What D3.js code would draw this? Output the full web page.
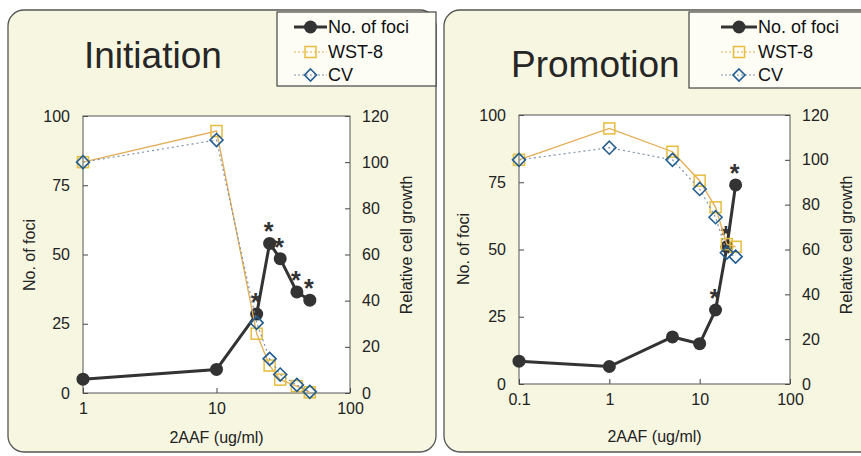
<!DOCTYPE html>
<html>
<head>
<meta charset="utf-8">
<script src="https://cdn.jsdelivr.net/npm/d3@7"></script>
<style>
  body { margin: 0; background: #ffffff; }
  svg { display: block; font-family: "Liberation Sans", Arial, sans-serif; }
  .tick text { font-size: 16px; fill: #222; }
  .tick line { stroke: #444; }
</style>
</head>
<body>
<svg id="chart" width="861" height="456"></svg>
<script>
// tick labels
const fociTicks = [0, 25, 50, 75, 100];
const growthTicks = [0, 20, 40, 60, 80, 100, 120];
const initXTicks = [1, 10, 100];
const promXTicks = [0.1, 1, 10, 100];

// Initiation
const initDose = [1, 10, 20, 25, 30, 40, 50];
const initFoci = [5, 8.5, 28.5, 54, 48.5, 36.5, 33.5];
const initWst = [100, 113.5, 25.7, 11.9, 5.8, 3, 0.3];
const initCv = [100, 109.6, 30.4, 14.8, 8, 3.5, 0.5];
const initSig = [false, false, true, true, true, true, true];

// Promotion
const promDose = [0.1, 1, 5, 10, 15, 20, 25];
const promFoci = [8.5, 6.5, 17.5, 15, 27.5, 51, 74];
const promWst = [100, 114, 103.6, 90.7, 78.8, 62.4, 61.2];
const promCv = [100, 105.4, 100, 87, 74.4, 58.6, 56.8];
const promSig = [false, false, false, false, true, true, true];

const seriesNames = ['No. of foci', 'WST-8', 'CV'];

const colFoci = '#333333';
const colWst = '#e6bd3c';
const colWstLine = '#e3ad55';
const colCv = '#235d8f';
const colCvLine = '#7f93ab';

const svg = d3.select('#chart');

function drawPanel (cfg) {
    const g = svg.append('g');

    /*panel background*/
    g.append('rect')
        .attr('x', cfg.box[0]).attr('y', cfg.box[1])
        .attr('width', cfg.box[2]).attr('height', cfg.box[3])
        .attr('rx', 16)
        .attr('fill', '#f6f6e1')
        .attr('stroke', '#555')
        .attr('stroke-width', 1.3);

    const p = cfg.plot;
    const width = p.right - p.left;
    const height = p.bottom - p.top;

    const chart = g.append('g')
        .attr('transform', `translate(${p.left}, ${p.top})`);

    chart.append('rect')
        .attr('width', width).attr('height', height)
        .attr('fill', '#ffffff');

    const x = d3.scaleLog()
        .domain(cfg.xDomain)
        .range([0, width]);

    const yL = d3.scaleLinear()
        .domain([0, 100])
        .range([height, 0]);

    const yR = d3.scaleLinear()
        .domain([0, 120])
        .range([height, 0]);

    /*axes*/
    chart.append('g')
        .attr('transform', `translate(0, ${height})`)
        .call(d3.axisBottom(x).tickValues(cfg.xTicks).tickFormat(d3.format('~g'))
            .tickSize(-5).tickSizeOuter(0).tickPadding(10))
        .call(a => a.select('.domain').remove());

    chart.append('g')
        .call(d3.axisLeft(yL).tickValues(fociTicks).tickSize(-5).tickSizeOuter(0).tickPadding(13))
        .call(a => a.select('.domain').remove());

    chart.append('g')
        .attr('transform', `translate(${width}, 0)`)
        .call(d3.axisRight(yR).tickValues(growthTicks).tickSize(-5).tickSizeOuter(0).tickPadding(12))
        .call(a => a.select('.domain').remove());

    chart.append('rect')
        .attr('width', width).attr('height', height)
        .attr('fill', 'none')
        .attr('stroke', '#555')
        .attr('stroke-width', 1);

    /*axis titles*/
    g.append('text')
        .attr('x', (p.left + p.right) / 2)
        .attr('y', cfg.xTitleY)
        .attr('text-anchor', 'middle')
        .attr('font-size', 16)
        .attr('fill', '#222')
        .text('2AAF (ug/ml)');

    g.append('text')
        .attr('transform', `translate(${cfg.yTitleL[0]}, ${cfg.yTitleL[1]}) rotate(-90)`)
        .attr('text-anchor', 'middle')
        .attr('dominant-baseline', 'middle')
        .attr('font-size', 16)
        .attr('fill', '#222')
        .text('No. of foci');

    g.append('text')
        .attr('transform', `translate(${cfg.yTitleR[0]}, ${cfg.yTitleR[1]}) rotate(-90)`)
        .attr('text-anchor', 'middle')
        .attr('dominant-baseline', 'middle')
        .attr('font-size', 16)
        .attr('fill', '#222')
        .text('Relative cell growth');

    /*title*/
    g.append('text')
        .attr('x', cfg.titlePos[0])
        .attr('y', cfg.titlePos[1])
        .attr('font-size', 37)
        .attr('fill', '#262626')
        .text(cfg.title);

    const rows = cfg.dose.map((d, i) => ({
        dose: d, foci: cfg.foci[i], wst: cfg.wst[i], cv: cfg.cv[i], sig: cfg.sig[i]
    }));

    /*foci line*/
    chart.append('path')
        .datum(rows)
        .attr('fill', 'none')
        .attr('stroke', colFoci)
        .attr('stroke-width', 3)
        .attr('d', d3.line().x(d => x(d.dose)).y(d => yL(d.foci)));

    chart.selectAll('.foci')
        .data(rows)
        .enter()
        .append('circle')
        .attr('class', 'foci')
        .attr('cx', d => x(d.dose))
        .attr('cy', d => yL(d.foci))
        .attr('r', 6.5)
        .attr('fill', colFoci);

    /*significance marks*/
    chart.selectAll('.star')
        .data(rows.filter(d => d.sig))
        .enter()
        .append('text')
        .attr('class', 'star')
        .attr('x', d => x(d.dose) - 1)
        .attr('y', d => yL(d.foci) - 3)
        .attr('text-anchor', 'middle')
        .attr('font-size', 25)
        .attr('font-weight', 'bold')
        .attr('fill', '#333')
        .text('*');

    /*WST-8*/
    chart.append('path')
        .datum(rows)
        .attr('fill', 'none')
        .attr('stroke', colWstLine)
        .attr('stroke-width', 1.3)
        .attr('d', d3.line().x(d => x(d.dose)).y(d => yR(d.wst)));

    chart.selectAll('.wst')
        .data(rows)
        .enter()
        .append('rect')
        .attr('class', 'wst')
        .attr('x', d => x(d.dose) - 5.5)
        .attr('y', d => yR(d.wst) - 5.5)
        .attr('width', 11)
        .attr('height', 11)
        .attr('fill', 'none')
        .attr('stroke', colWst)
        .attr('stroke-width', 1.5);

    /*CV*/
    chart.append('path')
        .datum(rows)
        .attr('fill', 'none')
        .attr('stroke', colCvLine)
        .attr('stroke-width', 1.2)
        .attr('stroke-dasharray', '2,3')
        .attr('d', d3.line().x(d => x(d.dose)).y(d => yR(d.cv)));

    chart.selectAll('.cv')
        .data(rows)
        .enter()
        .append('path')
        .attr('class', 'cv')
        .attr('transform', d => `translate(${x(d.dose)}, ${yR(d.cv)})`)
        .attr('d', 'M0,-6.5L6.5,0L0,6.5L-6.5,0Z')
        .attr('fill', 'none')
        .attr('stroke', colCv)
        .attr('stroke-width', 1.6);

    /*legend*/
    const lg = cfg.legend;
    g.append('rect')
        .attr('x', lg.x).attr('y', lg.y)
        .attr('width', lg.w).attr('height', lg.h)
        .attr('fill', '#fdfdf6')
        .attr('stroke', '#444')
        .attr('stroke-width', 1.2);

    const rowY = [15, 40, 63];
    seriesNames.forEach((name, i) => {
        const cy = lg.y + rowY[i];
        const x0 = lg.symX, x1 = lg.symX + lg.symW, cx = lg.symX + lg.symW / 2;
        const line = g.append('line')
            .attr('x1', x0).attr('x2', x1)
            .attr('y1', cy).attr('y2', cy);
        if (i === 0) {
            line.attr('stroke', colFoci).attr('stroke-width', 3);
            g.append('circle').attr('cx', cx).attr('cy', cy).attr('r', 6.5).attr('fill', colFoci);
        } else if (i === 1) {
            line.attr('stroke', colWstLine).attr('stroke-width', 1.2).attr('stroke-dasharray', '2,2');
            g.append('rect').attr('x', cx - 5.5).attr('y', cy - 5.5).attr('width', 11).attr('height', 11)
                .attr('fill', 'none').attr('stroke', colWst).attr('stroke-width', 1.5);
        } else {
            line.attr('stroke', colCvLine).attr('stroke-width', 1.2).attr('stroke-dasharray', '2,2');
            g.append('path').attr('transform', `translate(${cx}, ${cy})`)
                .attr('d', 'M0,-6L6,0L0,6L-6,0Z')
                .attr('fill', 'none').attr('stroke', colCv).attr('stroke-width', 1.6);
        }
        g.append('text')
            .attr('x', x1 + 1)
            .attr('y', cy)
            .attr('dominant-baseline', 'central')
            .attr('font-size', 18)
            .attr('fill', '#111')
            .text(name);
    });
}

drawPanel({
    box: [8, 10, 428, 442],
    plot: { left: 83, right: 350, top: 116, bottom: 393 },
    xDomain: [1, 100],
    xTicks: initXTicks,
    dose: initDose, foci: initFoci, wst: initWst, cv: initCv, sig: initSig,
    title: 'Initiation',
    titlePos: [84, 68],
    xTitleY: 443,
    yTitleL: [31, 255],
    yTitleR: [408, 245],
    legend: { x: 277, y: 12, w: 159, h: 74, symX: 294, symW: 33 }
});

drawPanel({
    box: [444, 10, 440, 442],
    plot: { left: 519, right: 790, top: 115, bottom: 384 },
    xDomain: [0.1, 100],
    xTicks: promXTicks,
    dose: promDose, foci: promFoci, wst: promWst, cv: promCv, sig: promSig,
    title: 'Promotion',
    titlePos: [511, 77],
    xTitleY: 442,
    yTitleL: [465, 249],
    yTitleR: [848, 245],
    legend: { x: 689, y: 12, w: 180, h: 76, symX: 721, symW: 36 }
});
</script>
</body>
</html>
